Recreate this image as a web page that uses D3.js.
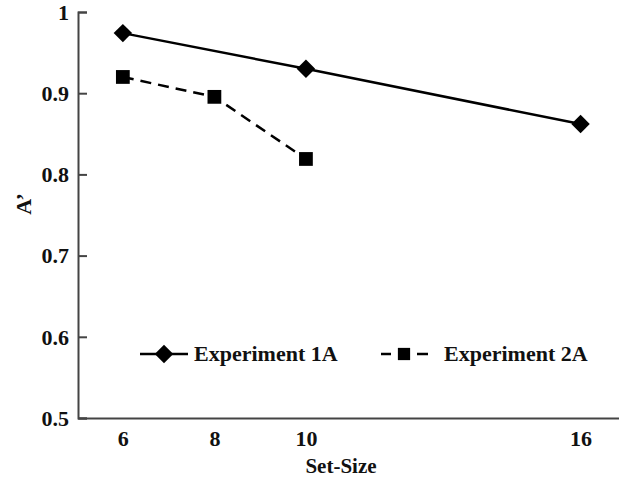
<!DOCTYPE html>
<html><head><meta charset="utf-8">
<script src="https://cdn.jsdelivr.net/npm/d3@7"></script>
<style>body{margin:0;background:#fff}svg{display:block}svg text{font-family:"Liberation Serif",serif !important;font-weight:bold}</style>
</head><body><svg id="c" width="619" height="477"></svg>
<script>
const setSizes1 = [6, 10, 16];
const exp1A = [0.974, 0.930, 0.862];
const setSizes2 = [6, 8, 10];
const exp2A = [0.920, 0.8955, 0.819];
const xTicks = [6, 8, 10, 16];
const yTicks = [0.5, 0.6, 0.7, 0.8, 0.9, 1];
const yTickLabels = ["0.5", "0.6", "0.7", "0.8", "0.9", "1"];
const seriesNames = ["Experiment 1A", "Experiment 2A"];

const FONT = "Liberation Serif, serif";
const svg = d3.select("#c");
const x = d3.scaleLinear().domain([5.02, 16.84]).range([78, 619]);
const y = d3.scaleLinear().domain([0.5, 1]).range([418, 12]);
const axisColor = "#444";

const yAxis = d3.axisLeft(y).tickValues(yTicks).tickSize(-9).tickPadding(20)
  .tickFormat((d, i) => yTickLabels[i]);
const gy = svg.append("g").attr("transform", "translate(78,0)").call(yAxis).attr("font-family", FONT);
gy.select(".domain").attr("stroke", axisColor).attr("stroke-width", 2);
gy.selectAll(".tick line").attr("stroke", axisColor).attr("stroke-width", 2);
gy.selectAll(".tick text").attr("font-size", 22).attr("fill", "#111").attr("font-family", FONT)
  .attr("x", -9).attr("dy", "0.33em");

const xAxis = d3.axisBottom(x).tickValues(xTicks).tickSize(0).tickPadding(12).tickSizeOuter(0);
const gx = svg.append("g").attr("transform", "translate(0,418)").call(xAxis).attr("font-family", FONT);
gx.select(".domain").attr("stroke", axisColor).attr("stroke-width", 2);
gx.selectAll(".tick text").attr("font-size", 22).attr("fill", "#111").attr("font-family", FONT);

svg.append("text").attr("x", 341).attr("y", 473).attr("text-anchor", "middle").attr("font-family", FONT)
  .attr("font-size", 21).attr("fill", "#111").text("Set-Size");
svg.append("text").attr("transform", "translate(31,204) rotate(-90)").attr("text-anchor", "middle").attr("font-family", FONT)
  .attr("font-size", 22).attr("fill", "#111").text("A’");

const line = d3.line().x(d => x(d[0])).y(d => y(d[1]));
const d1 = setSizes1.map((s, i) => [s, exp1A[i]]);
const d2 = setSizes2.map((s, i) => [s, exp2A[i]]);

svg.append("path").attr("d", line(d1)).attr("fill", "none").attr("stroke", "#000").attr("stroke-width", 2.5);
svg.append("path").attr("d", line(d2)).attr("fill", "none").attr("stroke", "#000").attr("stroke-width", 2.5)
  .attr("stroke-dasharray", "11,7");

const diamond = d3.symbol().type(d3.symbolSquare).size(170);
const square = d3.symbol().type(d3.symbolSquare).size(190);

svg.selectAll(".m1").data(d1).join("path").attr("class", "m1")
  .attr("d", diamond).attr("transform", d => `translate(${x(d[0])},${y(d[1])}) rotate(45)`).attr("fill", "#000");
svg.selectAll(".m2").data(d2).join("path").attr("class", "m2")
  .attr("d", square).attr("transform", d => `translate(${x(d[0])},${y(d[1])})`).attr("fill", "#000");

const ly = 354;
const lg = svg.append("g");
lg.append("line").attr("x1", 140).attr("x2", 188).attr("y1", ly).attr("y2", ly).attr("stroke", "#000").attr("stroke-width", 2.5);
lg.append("path").attr("d", diamond).attr("transform", `translate(164,${ly}) rotate(45)`).attr("fill", "#000");
lg.append("text").attr("x", 194).attr("y", ly).attr("dy", "0.33em").attr("font-size", 22).attr("font-family", FONT).attr("fill", "#111").text(seriesNames[0]);
lg.append("line").attr("x1", 381).attr("x2", 391).attr("y1", ly).attr("y2", ly).attr("stroke", "#000").attr("stroke-width", 2.5);
lg.append("line").attr("x1", 417).attr("x2", 428).attr("y1", ly).attr("y2", ly).attr("stroke", "#000").attr("stroke-width", 2.5);
lg.append("path").attr("d", d3.symbol().type(d3.symbolSquare).size(150)).attr("transform", `translate(404,${ly})`).attr("fill", "#000");
lg.append("text").attr("x", 444).attr("y", ly).attr("dy", "0.33em").attr("font-size", 22).attr("font-family", FONT).attr("fill", "#111").text(seriesNames[1]);
</script></body></html>
